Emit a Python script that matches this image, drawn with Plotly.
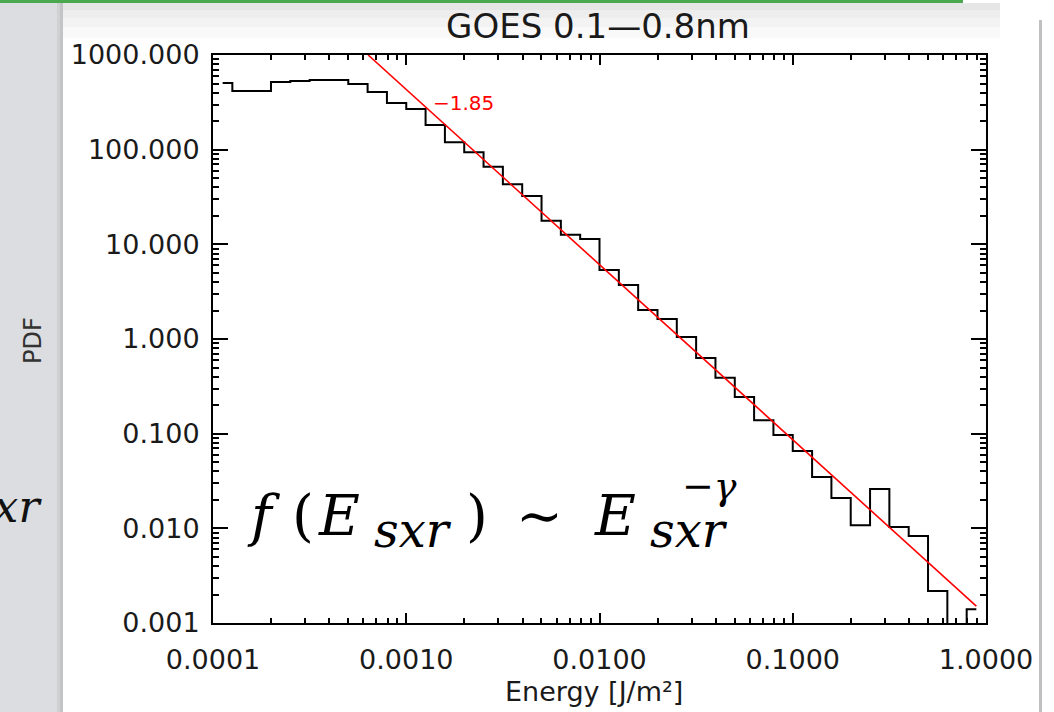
import plotly.graph_objects as go

# ---- data ----
energy_centers = [
    1.122e-4, 1.413e-4, 1.778e-4, 2.239e-4, 2.818e-4, 3.548e-4, 4.467e-4, 5.623e-4, 7.079e-4, 8.913e-4,
    1.122e-3, 1.413e-3, 1.778e-3, 2.239e-3, 2.818e-3, 3.548e-3, 4.467e-3, 5.623e-3, 7.079e-3, 8.913e-3,
    1.122e-2, 1.413e-2, 1.778e-2, 2.239e-2, 2.818e-2, 3.548e-2, 4.467e-2, 5.623e-2, 7.079e-2, 8.913e-2,
    1.122e-1, 1.413e-1, 1.778e-1, 2.239e-1, 2.818e-1, 3.548e-1, 4.467e-1, 5.623e-1, 7.079e-1, 8.913e-1,
]
pdf_values = [
    506, 417, 417, 519, 530, 545, 545, 494, 406, 311,
    269, 182, 120, 94, 66, 43, 32.4, 17.7, 12.6, 11.4,
    5.35, 3.72, 2.02, 1.63, 1.05, 0.63, 0.39, 0.244, 0.139, 0.097,
    0.0656, 0.0348, 0.0209, 0.0108, 0.026, 0.0103, 0.0083, 0.00218, 0.0, 0.0014,
]
fit_x = [6.35e-4, 0.891]
fit_y = [1000.0, 1.51e-3]
fit_label = "\u22121.85"
title_text = "GOES 0.1\u20140.8nm"
x_title = "Energy [J/m\u00b2]"
y_title = "PDF"

# empty bins are drawn off the bottom of the log axis
ZERO_FLOOR = 1e-6
pdf_plot = [v if v > 0 else ZERO_FLOOR for v in pdf_values]

W, H = 1054, 712
L, R, T, B = 213, 68, 55, 89
PW, PH = W - L - R, H - T - B


def px(xp):
    return (xp - L) / PW


def py(yp):
    return (H - B - yp) / PH


fig = go.Figure()
fig.add_trace(go.Scatter(
    x=energy_centers, y=pdf_plot, mode="lines",
    line=dict(color="black", width=2, shape="hvh"), showlegend=False,
))
fig.add_trace(go.Scatter(
    x=fit_x, y=fit_y, mode="lines",
    line=dict(color="#ff0000", width=1.6), showlegend=False,
))

font_main = "DejaVu Sans"
txt_col = "#1a1a1a"

fig.update_layout(
    width=W, height=H,
    margin=dict(l=L, r=R, t=T, b=B),
    paper_bgcolor="white", plot_bgcolor="white",
    font=dict(family=font_main, size=27, color=txt_col),
    title=dict(text=title_text, x=598 / W, xanchor="center",
               y=1 - 26 / H, yanchor="middle", yref="container",
               font=dict(size=34, color=txt_col)),
)

fig.update_xaxes(
    type="log", range=[-4, 0], dtick=1, tickformat=".4f",
    ticks="inside", ticklen=10, tickwidth=2, tickcolor="black",
    showline=True, linewidth=2, linecolor="black", mirror="allticks",
    showgrid=False, zeroline=False, ticklabelstandoff=12,
    minor=dict(ticks="inside", ticklen=5, tickwidth=1.5, tickcolor="black", showgrid=False),
)
fig.update_yaxes(
    type="log", range=[-3, 3], dtick=1, tickformat=".3f",
    ticks="inside", ticklen=15, tickwidth=2, tickcolor="black",
    showline=True, linewidth=2, linecolor="black", mirror="allticks",
    showgrid=False, zeroline=False, ticklabelstandoff=6,
    minor=dict(ticks="inside", ticklen=6, tickwidth=1.5, tickcolor="black", showgrid=False),
)

shapes = []
# slide decorations: left grey panel with shadow edge
shapes.append(dict(type="rect", xref="paper", yref="paper", x0=px(0), x1=px(63), y0=py(H), y1=py(0),
                   fillcolor="#dcdde0", line=dict(width=0), layer="above"))
shapes.append(dict(type="rect", xref="paper", yref="paper", x0=px(57), x1=px(60), y0=py(H), y1=py(0),
                   fillcolor="#d0d1d3", line=dict(width=0), layer="above"))
shapes.append(dict(type="rect", xref="paper", yref="paper", x0=px(60), x1=px(63), y0=py(H), y1=py(0),
                   fillcolor="#c3c4c6", line=dict(width=0), layer="above"))
# top shadow gradient
for a, b, c in [(3, 10, "#e6e6e6"), (10, 18, "#ededed"), (18, 27, "#f3f3f3"), (27, 38, "#f9f9f9")]:
    shapes.append(dict(type="rect", xref="paper", yref="paper", x0=px(63), x1=px(1000), y0=py(b), y1=py(a),
                       fillcolor=c, line=dict(width=0), layer="below"))
# green top bar
shapes.append(dict(type="rect", xref="paper", yref="paper", x0=px(0), x1=px(963), y0=py(3), y1=py(0),
                   fillcolor="#4aa84e", line=dict(width=0), layer="above"))
# right grey rule
shapes.append(dict(type="rect", xref="paper", yref="paper", x0=px(1039), x1=px(1042), y0=py(H), y1=py(20),
                   fillcolor="#c0c0c0", line=dict(width=0), layer="above"))
fig.update_layout(shapes=shapes)

ann = []
serif = "DejaVu Serif"
# fit slope label
ann.append(dict(x=-2.87, y=2.493, xref="x", yref="y", text=fit_label, showarrow=False,
                xanchor="left", yanchor="middle", font=dict(size=20, color="#ff0000", family=font_main)))
# axis titles
ann.append(dict(x=px(594), y=py(692), xref="paper", yref="paper", text=x_title, showarrow=False,
                xanchor="center", yanchor="middle", font=dict(size=27, color=txt_col)))
ann.append(dict(x=px(33), y=py(341), xref="paper", yref="paper", text=y_title, showarrow=False,
                textangle=-90, xanchor="center", yanchor="middle", font=dict(size=24, color="#333333")))
# slide fragment on the left
ann.append(dict(x=px(44), y=py(506), xref="paper", yref="paper", text="<i>sxr</i>", showarrow=False,
                xanchor="right", yanchor="middle", font=dict(size=44, color="#111111", family=serif)))
# formula pieces
pieces = [
    ("<i>f</i>", 245, 515, 56),
    ("(", 290, 515, 56),
    ("<i>E</i>", 316, 515, 56),
    ("<i>sxr</i>", 372, 530, 48),
    (")", 464, 515, 56),
    ("\u223c", 514, 515, 56),
    ("<i>E</i>", 592, 515, 56),
    ("<i>sxr</i>", 648, 530, 48),
    ("\u2212<i>\u03b3</i>", 680, 486, 38),
]
for txt, xl, yc, fs in pieces:
    ann.append(dict(x=px(xl), y=py(yc), xref="paper", yref="paper", text=txt, showarrow=False,
                    xanchor="left", yanchor="middle", font=dict(size=fs, color="black", family=serif)))
fig.update_layout(annotations=ann)

fig.write_html("out.html")
